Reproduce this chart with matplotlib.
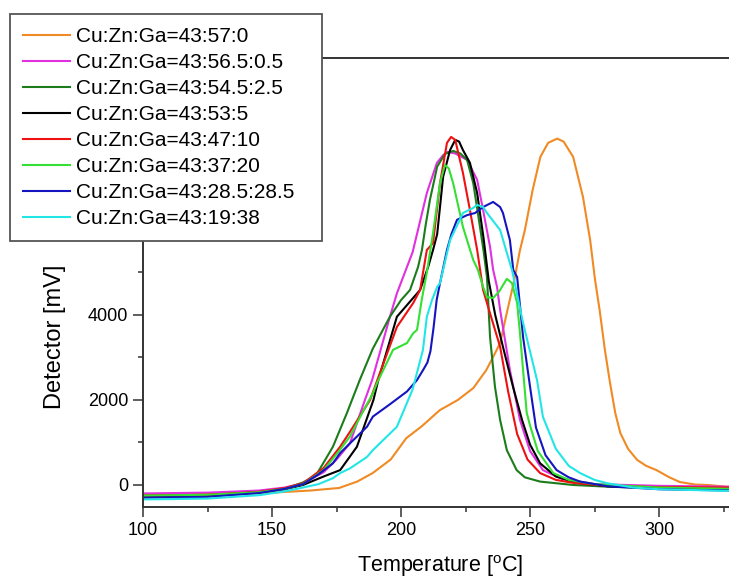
import matplotlib
matplotlib.use("Agg")
import matplotlib.pyplot as plt

plt.rcParams['font.family'] = ['Liberation Sans', 'DejaVu Sans']

labels = ["Cu:Zn:Ga=43:57:0", "Cu:Zn:Ga=43:56.5:0.5", "Cu:Zn:Ga=43:54.5:2.5",
          "Cu:Zn:Ga=43:53:5", "Cu:Zn:Ga=43:47:10", "Cu:Zn:Ga=43:37:20",
          "Cu:Zn:Ga=43:28.5:28.5", "Cu:Zn:Ga=43:19:38"]
colors = ['#F08A24', '#E030E0', '#1C7C1C', '#000000', '#EE1111', '#33E033',
          '#1515C0', '#22E6E6']

t_orange = [100, 130, 150, 165, 176, 183, 189, 196, 202, 208, 215, 222, 228, 233, 236, 238.4,
            241, 244, 246, 248, 251, 254, 257, 260.5, 263, 266.7, 270.5, 273.3, 275.2, 277,
            279, 281, 283, 285, 288, 291.5, 295, 299, 304, 308, 314, 319, 327.5]
v_orange = [-210, -200, -180, -130, -70, 80, 280, 600, 1100, 1380, 1760, 2000, 2280, 2700, 3050, 3340,
            4050, 4850, 5500, 6000, 6940, 7720, 8050, 8150, 8080, 7720, 6780, 5760, 4820, 4100,
            3180, 2400, 1700, 1220, 850, 590, 450, 350, 180, 70, 10, 0, -50]

t_magenta = [100, 125, 145, 155, 162, 170, 175, 180.2, 186, 188.8, 195.7, 198.4, 204.5, 210, 213.9,
             216.3, 218, 221, 225.6, 229.5, 231.8, 234.5, 235.7, 237.2, 238.4, 242.2, 246.1, 250,
             255, 262, 275, 300, 327.5]
v_magenta = [-200, -180, -130, -60, 40, 300, 600, 980, 2000, 2470, 3960, 4510, 5480, 6870, 7580,
             7760, 7840, 7800, 7650, 7180, 6470, 5600, 5060, 4660, 4120, 2700, 1530, 800,
             350, 150, 20, -20, -40]

t_dgreen = [100, 125, 145, 155, 162, 167, 173.6, 179, 184, 189, 195.7, 200, 203.5, 206.6, 208.1,
            209.5, 211.2, 214, 217, 220.2, 223, 225.6, 228, 230.6, 232, 233.3, 234.5, 236.4, 238.4,
            241, 244.8, 248, 253.9, 266.7, 280, 300, 327.5]
v_dgreen = [-290, -260, -190, -90, 60, 220, 900, 1690, 2470, 3200, 3960, 4350, 4590, 5130, 5530,
            6100, 6710, 7490, 7790, 7860, 7800, 7650, 7100, 6070, 5500, 4890, 3480, 2310, 1530,
            820, 350, 180, 80, 0, -40, -80, -100]

t_black = [100, 125, 145, 155, 162, 170, 176.4, 180.2, 182.9, 189.3, 191.2, 198.4, 207.4, 210.5,
           212.4, 214, 215.2, 216.3, 219, 221, 222.5, 224, 226.7, 229.5, 232, 234, 236.5, 239.5,
           243.4, 246.9, 250, 253.9, 260, 268, 280, 300, 327.5]
v_black = [-260, -240, -170, -100, 0, 200, 350, 670, 900, 2000, 2470, 3960, 4590, 5130,
           5530, 5900, 6600, 7250, 7880, 8120, 8080, 7880, 7580, 6870, 5800, 4800, 4000, 3250,
           2310, 1530, 950, 510, 200, 50, -30, -70, -100]

t_red = [100, 125, 145, 155, 162, 170, 176.4, 180.2, 188, 191, 198.4, 204.7, 207.4, 210, 212.4,
         215.1, 217.8, 219.4, 221, 224, 226.7, 229.5, 231.8, 233.3, 238.4, 241.5, 245, 249,
         253.9, 260, 266.7, 280, 300, 327.5]
v_red = [-250, -230, -160, -70, 40, 400, 900, 1250, 2000, 2500, 3720, 4280, 4590, 5530, 5690,
         7100, 8050, 8190, 8120, 7340, 6470, 5530, 4590, 4280, 3250, 2200, 1200, 600,
         280, 120, 50, -20, -50, -60]

t_lgreen = [100, 125, 145, 155, 162, 170, 176, 180.2, 185, 189.1, 190.7, 196.9, 202.3, 204.7, 206.2,
            208, 210, 212.4, 215.1, 217, 218.5, 220.2, 224, 228, 229.8, 231.8, 233.3, 235.7, 238,
            241, 243, 245, 246.2, 247.3, 248.7, 250, 253, 259, 265, 275, 300, 327.5]
v_lgreen = [-250, -230, -170, -90, 20, 350, 800, 1140, 1700, 2160, 2400, 3180, 3340, 3570, 3650,
            4350, 5000, 5930, 7100, 7530, 7450, 7100, 6070, 5290, 5060, 4660, 4420, 4400, 4550,
            4850, 4750, 4280, 3500, 2700, 1700, 1400, 800, 280, 120, 20, -60, -90]

t_blue = [100, 125, 145, 155, 162, 168, 173.6, 176.4, 180.2, 186.8, 189.1, 195.7, 202.3, 206.2,
          208.5, 210.2, 211.4, 212.6, 213.8, 215.1, 217.8, 219.5, 221.7, 225.6, 228.7, 231.8, 235.7,
          238.4, 239.5, 242.2, 243.5, 245, 247.3, 250, 252.3, 256, 260.3, 265, 269.4, 280, 300, 327.5]
v_blue = [-300, -280, -190, -90, 20, 250, 510, 750, 980, 1370, 1610, 1900, 2200, 2470,
          2700, 2880, 3150, 3700, 4350, 4750, 5530, 5900, 6240, 6350, 6400, 6540, 6660,
          6540, 6400, 5760, 5060, 4890, 3480, 2310, 1350, 700, 350, 180, 80, -30, -100, -130]

t_cyan = [100, 125, 145, 155, 162, 168, 173.6, 176.4, 180.2, 186.8, 189.1, 198.4, 204.5, 208.5,
          210, 212, 214, 215.1, 219, 224, 228, 229.5, 231.8, 233.3, 238.4, 242.2, 243, 247.3,
          252.7, 255, 260, 265, 269.4, 275, 280, 290, 300, 327.5]
v_cyan = [-340, -320, -240, -150, -60, 20, 160, 280, 390, 660, 820, 1370, 2250, 3180,
          3960, 4350, 4660, 4750, 5760, 6400, 6520, 6590, 6540, 6400, 6000, 5220, 5060, 3810,
          2470, 1600, 850, 450, 280, 120, 40, -60, -100, -140]

y_ticks = [0, 2000, 4000, 6000, 8000, 10000]
y_ticklabels = ['0', '2000', '4000', '', '', '']   # upper labels are hidden behind the legend
x_ticks = [100, 150, 200, 250, 300]

series_t = [t_orange, t_magenta, t_dgreen, t_black, t_red, t_lgreen, t_blue, t_cyan]
series_v = [v_orange, v_magenta, v_dgreen, v_black, v_red, v_lgreen, v_blue, v_cyan]

W, H = 729, 578
fig = plt.figure(figsize=(W / 100, H / 100), dpi=100)
ax = fig.add_axes([143 / W, (H - 507) / H, (W - 143) / W, (507 - 58) / H])

for t, v, c, lab in zip(series_t, series_v, colors, labels):
    ax.plot(t, v, color=c, lw=1.5, label=lab)

ax.set_xlim(100, 327.1)
ax.set_ylim(-518, 10047)
ax.set_xticks(x_ticks)
ax.set_xticks([125, 175, 225, 275, 325], minor=True)
ax.set_yticks(y_ticks)
ax.set_yticklabels(y_ticklabels)
ax.set_yticks([1000, 3000, 5000, 7000, 9000], minor=True)
ax.tick_params(which='major', length=7.2, width=1.1, labelsize=13, pad=3.5, color='#333333')
ax.tick_params(which='minor', length=3.6, width=1.1, color='#333333')
ax.spines['right'].set_visible(False)
for s in ['left', 'bottom', 'top']:
    ax.spines[s].set_linewidth(1.4)
    ax.spines[s].set_color('#333333')

fig.text(440 / W, 1 - 566 / H, 'Temperature [$^{\\mathregular{o}}$C]', ha='center', va='center',
         fontsize=15.5)
fig.text(55 / W, 1 - 337 / H, 'Detector [mV]', ha='center', va='center', rotation=90,
         fontsize=17)

leg = ax.legend(loc='upper left', bbox_to_anchor=(10 / W, 1 - 241 / H, 312 / W, 227 / H),
                bbox_transform=fig.transFigure, mode='expand', borderaxespad=0, fancybox=False,
                framealpha=1, edgecolor='#555555', fontsize=15, handlelength=2.25,
                handletextpad=0.3, labelspacing=0.34, borderpad=0.62)
leg.get_frame().set_linewidth(1.3)

fig.savefig('out.png', dpi=100)
